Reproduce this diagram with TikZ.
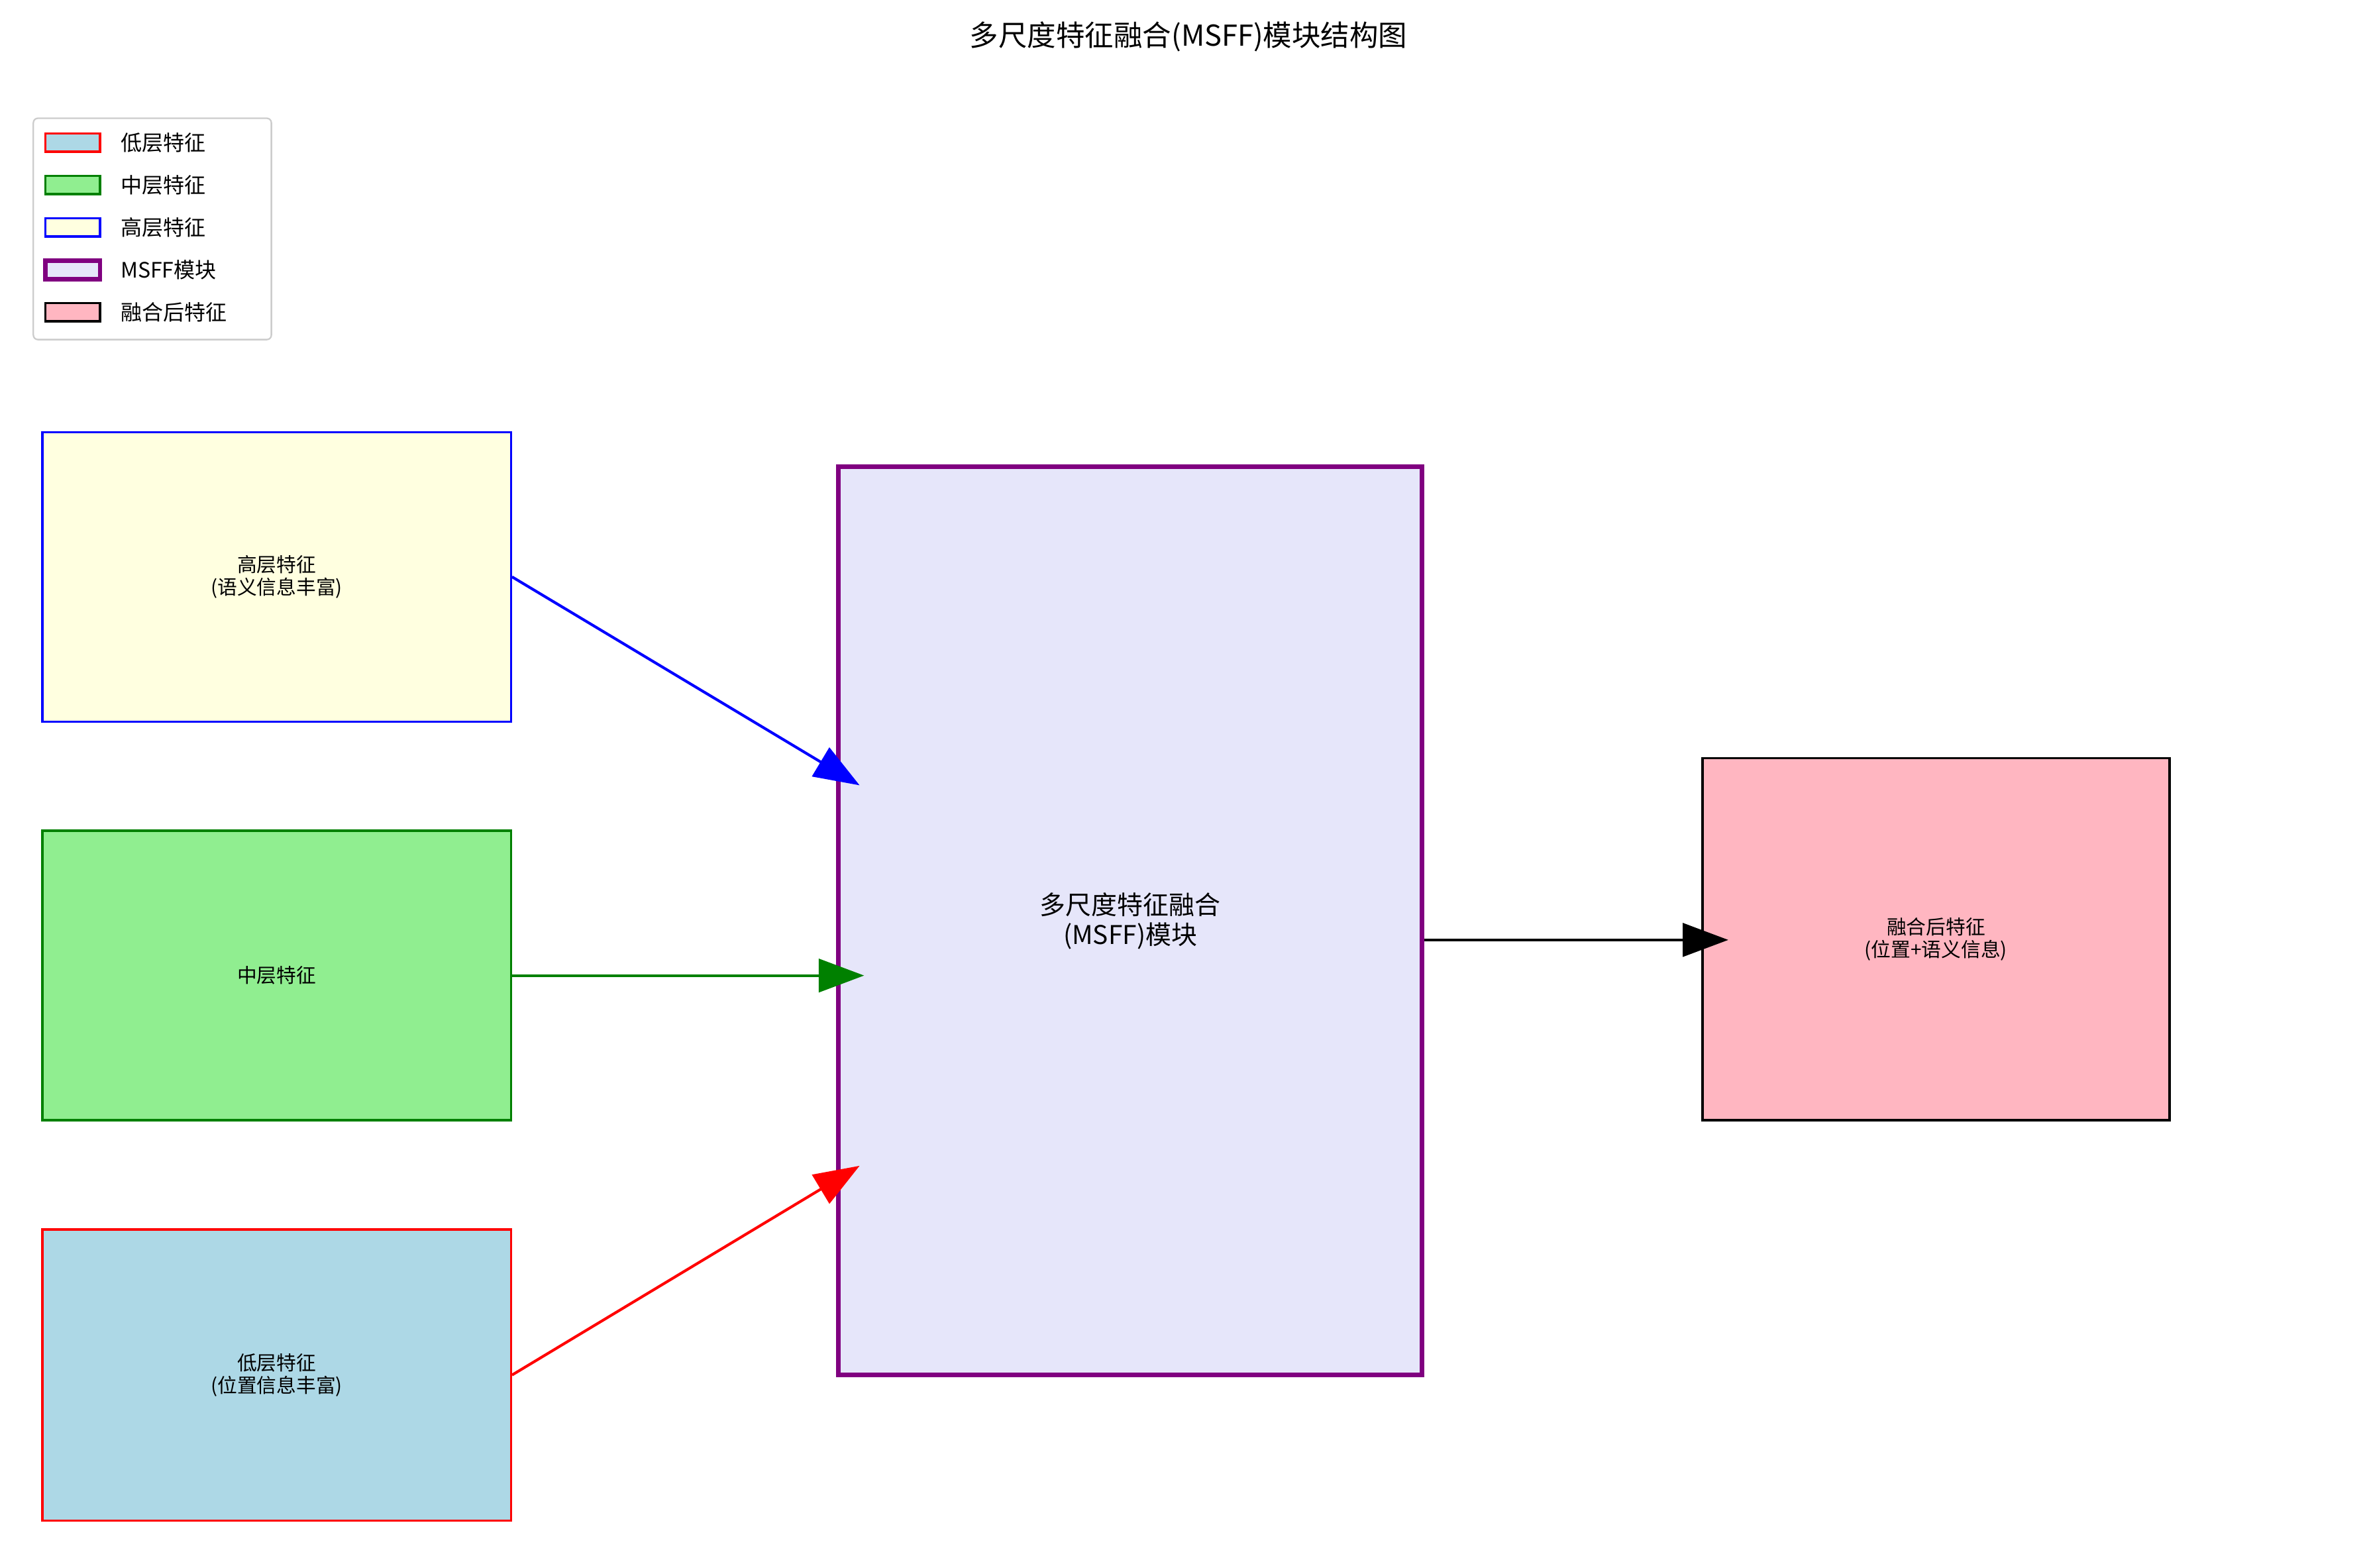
\documentclass[tikz,border=0pt]{standalone}
\usepackage{fontspec}
\setmainfont{Noto Sans CJK SC}
\usetikzlibrary{arrows.meta}
\definecolor{lyel}{HTML}{FFFFE0}
\definecolor{lgrn}{HTML}{90EE90}
\definecolor{dgrn}{HTML}{008000}
\definecolor{lblu}{HTML}{ADD8E6}
\definecolor{lav}{HTML}{E6E6FA}
\definecolor{purp}{HTML}{800080}
\definecolor{lpink}{HTML}{FFB6C1}
\tikzset{
  box/.style={draw, line width=1.5pt, inner sep=0pt, align=center, font=\fontsize{13}{15}\selectfont},
  arr/.style={line width=1.8pt, -{Triangle[length=30pt,width=22pt]}},
  patch/.style={draw, line width=1.5pt, minimum width=36pt, minimum height=12pt, inner sep=0pt},
  ltext/.style={anchor=west, font=\fontsize{14}{16}\selectfont}
}
\begin{document}
\begin{tikzpicture}[x=1pt,y=-1pt]
\useasboundingbox (0,0) rectangle (1560,1034);
\node[font=\fontsize{19}{22}\selectfont] (title) at (784,24) {多尺度特征融合(MSFF)模块结构图};
% legend
\draw[rounded corners=3pt, draw=black!20, line width=1pt, fill=white] (22,78) rectangle (179,224);
\node[patch, draw=red, fill=lblu] (p1) at (48,94) {}; \node[ltext] (l1) at (76,94) {低层特征};
\node[patch, draw=dgrn, fill=lgrn] (p2) at (48,122) {}; \node[ltext] (l2) at (76,122) {中层特征};
\node[patch, draw=blue, fill=lyel] (p3) at (48,150) {}; \node[ltext] (l3) at (76,150) {高层特征};
\node[patch, draw=purp, fill=lav, line width=3pt] (p4) at (48,178) {}; \node[ltext] (l4) at (76,178) {MSFF模块};
\node[patch, draw=black, fill=lpink] (p5) at (48,206) {}; \node[ltext] (l5) at (76,206) {融合后特征};
% boxes
\node[box, draw=blue, fill=lyel, minimum width=309pt, minimum height=191pt] (high) at (182.5,380.5) {高层特征\\(语义信息丰富)};
\node[box, draw=dgrn, fill=lgrn, minimum width=309pt, minimum height=191pt] (mid) at (182.5,643.5) {中层特征};
\node[box, draw=red, fill=lblu, minimum width=309pt, minimum height=192pt] (low) at (182.5,907) {低层特征\\(位置信息丰富)};
\node[box, draw=purp, fill=lav, line width=3pt, minimum width=385pt, minimum height=599pt, font=\fontsize{17}{20}\selectfont] (msff) at (745.5,607.5) {多尺度特征融合\\(MSFF)模块};
\node[box, draw=black, fill=lpink, minimum width=308pt, minimum height=239pt] (out) at (1277,619.5) {融合后特征\\(位置+语义信息)};
% arrow ends
\coordinate (eh) at (567,518);
\coordinate (em) at (570,643.5);
\coordinate (el) at (567,769);
\coordinate (eo) at (1140,620);
\draw[arr, blue] (high.east) -- (eh);
\draw[arr, dgrn] (mid.east) -- (em);
\draw[arr, red] (low.east) -- (el);
\draw[arr, black] (msff.east |- eo) -- (eo);
\end{tikzpicture}
\end{document}
